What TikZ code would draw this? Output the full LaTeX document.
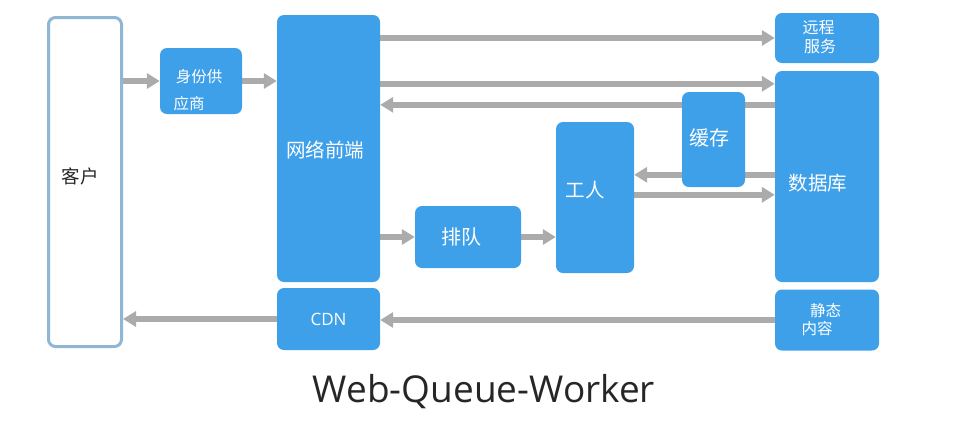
\documentclass[tikz,border=0pt]{standalone}
\usepackage{fontspec}
\setmainfont{Open Sans}
\newfontfamily\cjk{Noto Sans CJK SC}
\usetikzlibrary{arrows.meta,backgrounds}
\definecolor{boxblue}{HTML}{3FA0EA}
\definecolor{clientedge}{HTML}{8FB7D3}
\definecolor{arrowgray}{HTML}{ABABAB}
\definecolor{titlegray}{HTML}{262626}
\begin{document}
\begin{tikzpicture}[x=1bp,y=-1bp,
  blue box/.style={rectangle,fill=boxblue,draw=none,rounded corners=7bp,inner sep=0pt},
  client box/.style={rectangle,fill=white,draw=clientedge,line width=3bp,rounded corners=7bp,inner sep=0pt},
  wtext/.style={text=white,font=\cjk\fontsize{#1}{#1}\selectfont,inner sep=0pt},
  wtext/.default=19bp,
  flow/.style={draw=arrowgray,line width=6bp,-{Triangle[width=15bp,length=13bp]}}
]
\useasboundingbox (0,0) rectangle (965,422);
% boxes
\node[client box,minimum width=73bp,minimum height=329bp] (client) at (85,182) {};
\node[blue box,minimum width=82bp,minimum height=66bp] (id) at (201,81) {};
\node[blue box,minimum width=103bp,minimum height=267bp] (web) at (328.5,148.5) {};
\node[blue box,minimum width=103bp,minimum height=62bp] (cdn) at (328.5,319) {};
\node[blue box,minimum width=106bp,minimum height=62bp] (queue) at (468,237) {};
\node[blue box,minimum width=78bp,minimum height=151bp] (worker) at (595,197.5) {};
\node[blue box,minimum width=63bp,minimum height=95bp] (cache) at (713.5,139.5) {};
\node[blue box,minimum width=104bp,minimum height=50bp] (remote) at (827,38) {};
\node[blue box,minimum width=104bp,minimum height=211bp] (db) at (827,176.5) {};
\node[blue box,minimum width=104bp,minimum height=61bp] (static) at (827,320) {};
% texts
\node[text=titlegray,font=\cjk\fontsize{18.5bp}{18.5bp}\selectfont,inner sep=0pt] (tclient) at (80,176) {客户};
\node[wtext=15.5bp] (tid1) at (199,77) {身份供};
\node[wtext=15.5bp] (tid2) at (189,104) {应商};
\node[wtext=19.5bp] (tweb) at (325,150) {网络前端};
\node[text=white,font=\fontsize{17bp}{17bp}\selectfont,inner sep=0pt] (tcdn) at (328.5,319) {CDN};
\node[wtext=20bp] (tqueue) at (461,237) {排队};
\node[wtext=19.5bp] (tworker) at (585,190) {工人};
\node[wtext=20bp] (tcache) at (709,138) {缓存};
\node[wtext=16bp] (tremote1) at (818.5,28) {远程};
\node[wtext=16bp] (tremote2) at (820,46) {服务};
\node[wtext=19.5bp] (tdb) at (818,183) {数据库};
\node[wtext=15.5bp] (tstatic1) at (825.5,311) {静态};
\node[wtext=15.5bp] (tstatic2) at (817,329) {内容};
\node[text=titlegray,font=\fontsize{37bp}{37bp}\selectfont,inner sep=0pt] (title) at (484,392) {Web-Queue-Worker};
% arrows
\begin{scope}[on background layer]
\draw[flow] (client.east |- id.west) -- (id.west);
\draw[flow] (id.east) -- (id.east -| web.west);
\draw[flow] (web.east |- remote.west) -- (remote.west);
\draw[flow] ([yshift=-13bp]db.north west -| web.east) -- ([yshift=-13bp]db.north west);
\draw[flow] ([yshift=-34bp]db.north west) -- ([yshift=-34bp]db.north west -| web.east);
\draw[flow] ([yshift=-53bp]worker.north east -| db.west) -- ([yshift=-53bp]worker.north east);
\draw[flow] ([yshift=-73bp]worker.north east) -- ([yshift=-73bp]worker.north east -| db.west);
\draw[flow] (web.east |- queue.west) -- (queue.west);
\draw[flow] (queue.east) -- (queue.east -| worker.west);
\draw[flow] (cdn.west) -- (cdn.west -| client.east);
\draw[flow] (static.west -| cdn.west) ++(0,0) (static.west) -- (static.west -| cdn.east);
\end{scope}
\end{tikzpicture}
\end{document}
